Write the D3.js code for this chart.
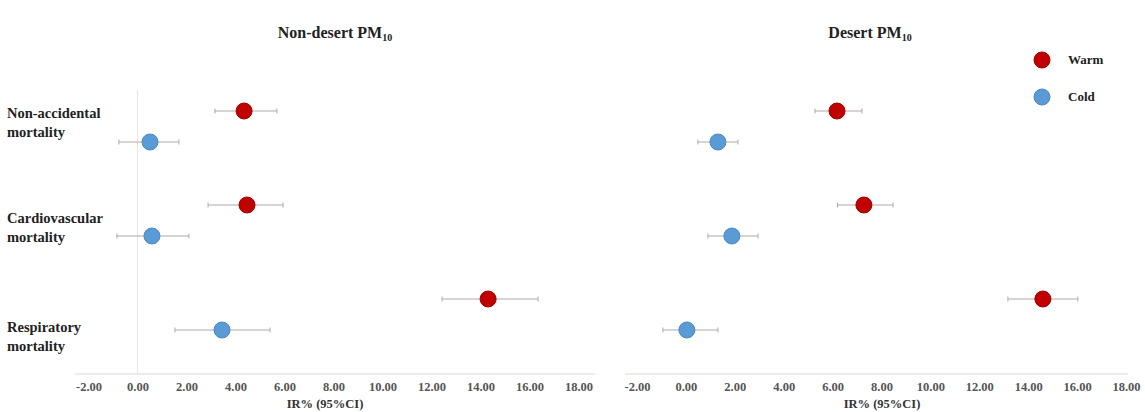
<!DOCTYPE html>
<html><head><meta charset="utf-8">
<script src="https://cdn.jsdelivr.net/npm/d3@7"></script>
<style>body{margin:0;background:#fff;} svg{display:block;font-family:"Liberation Serif","Times New Roman",serif;}</style>
</head><body>
<svg id="c" width="1145" height="412"></svg>
<script>
// ---- data ----
const outcomes = ["Non-accidental mortality", "Cardiovascular mortality", "Respiratory mortality"];
const seasons = ["Warm", "Cold"];
const tickValues = [-2, 0, 2, 4, 6, 8, 10, 12, 14, 16, 18];
const panelTitles = ["Non-desert PM", "Desert PM"];

const nonDesertWarm   = [4.35, 4.47, 14.31];
const nonDesertWarmLo = [3.16, 2.88, 12.43];
const nonDesertWarmHi = [5.69, 5.94, 16.35];
const nonDesertCold   = [0.51, 0.59, 3.45];
const nonDesertColdLo = [-0.76, -0.84, 1.53];
const nonDesertColdHi = [1.69, 2.10, 5.41];

const desertWarm   = [6.18, 7.28, 14.60];
const desertWarmLo = [5.28, 6.20, 13.17];
const desertWarmHi = [7.20, 8.47, 16.03];
const desertCold   = [1.31, 1.88, 0.04];
const desertColdLo = [0.49, 0.90, -0.94];
const desertColdHi = [2.13, 2.95, 1.31];

// ---- layout ----
const svg = d3.select("#c");
const colors = {Warm: "#C00000", Cold: "#5B9BD5"};
const strokes = {Warm: "#A00000", Cold: "#4A88C2"};
const seasonOffset = {Warm: -15, Cold: 16};
const rowScale = d3.scalePoint().domain(outcomes).range([126, 314]);

const panels = [
  {title: panelTitles[0], range: [88.5, 578.5], axisExt: [75, 595], titleX: 335, axisTitleX: 325, zeroLine: true,
   series: {Warm: [nonDesertWarm, nonDesertWarmLo, nonDesertWarmHi], Cold: [nonDesertCold, nonDesertColdLo, nonDesertColdHi]}},
  {title: panelTitles[1], range: [637, 1126], axisExt: [625, 1128], titleX: 870, axisTitleX: 882, zeroLine: false,
   series: {Warm: [desertWarm, desertWarmLo, desertWarmHi], Cold: [desertCold, desertColdLo, desertColdHi]}}
];

const axisY = 374;

panels.forEach(p => {
  const x = d3.scaleLinear().domain([-2, 18]).range(p.range);
  const g = svg.append("g");

  if (p.zeroLine) {
    g.append("line").attr("x1", x(0)).attr("x2", x(0)).attr("y1", 90).attr("y2", axisY)
      .attr("stroke", "#e6e6e6").attr("stroke-width", 1);
  }

  const ax = g.append("g").attr("transform", `translate(0,${axisY})`)
    .call(d3.axisBottom(x).tickValues(tickValues).tickSize(0).tickPadding(8).tickFormat(d3.format(".2f")));
  ax.select(".domain").remove();
  ax.append("line").attr("x1", p.axisExt[0]).attr("x2", p.axisExt[1]).attr("y1", 0).attr("y2", 0)
    .attr("stroke", "#d9d9d9").attr("stroke-width", 1.2);
  ax.selectAll("text").attr("font-family", "Liberation Serif").attr("font-weight", "bold")
    .attr("font-size", 12.5).attr("fill", "#555").text(d => d3.format(".2f")(d).replace("−", "-"));

  g.append("text").attr("x", p.axisTitleX).attr("y", 408)
    .attr("text-anchor", "middle").attr("font-weight", "bold").attr("font-size", 12.5).attr("fill", "#333")
    .text("IR% (95%CI)");

  const t = g.append("text").attr("x", p.titleX).attr("y", 38).attr("text-anchor", "middle")
    .attr("font-weight", "bold").attr("font-size", 16).attr("fill", "#222");
  t.append("tspan").text(p.title);
  t.append("tspan").attr("font-size", 10).attr("dy", 3).text("10");

  seasons.forEach(s => {
    const [est, lo, hi] = p.series[s];
    const rows = outcomes.map((o, i) => ({o, est: est[i], lo: lo[i], hi: hi[i]}));
    const yy = d => rowScale(d.o) + seasonOffset[s];
    const sg = g.append("g");
    sg.selectAll("line.ci").data(rows).join("line").attr("class", "ci")
      .attr("x1", d => x(d.lo)).attr("x2", d => x(d.hi)).attr("y1", yy).attr("y2", yy)
      .attr("stroke", "#b3aaa8").attr("stroke-width", 1.2);
    sg.selectAll("line.capl").data(rows).join("line").attr("class", "capl")
      .attr("x1", d => x(d.lo)).attr("x2", d => x(d.lo)).attr("y1", d => yy(d) - 2.5).attr("y2", d => yy(d) + 2.5)
      .attr("stroke", "#aaa").attr("stroke-width", 1);
    sg.selectAll("line.caph").data(rows).join("line").attr("class", "caph")
      .attr("x1", d => x(d.hi)).attr("x2", d => x(d.hi)).attr("y1", d => yy(d) - 2.5).attr("y2", d => yy(d) + 2.5)
      .attr("stroke", "#aaa").attr("stroke-width", 1);
    sg.selectAll("circle").data(rows).join("circle")
      .attr("cx", d => x(d.est)).attr("cy", yy).attr("r", 8)
      .attr("fill", colors[s]).attr("stroke", strokes[s]).attr("stroke-width", 1);
  });
});

// row labels
const labelOffsets = [[-8, 11], [3, 22], [18, 37]];
outcomes.forEach((o, i) => {
  const words = o.split(" ");
  const txt = svg.append("text").attr("font-weight", "bold").attr("font-size", 14.5).attr("fill", "#222");
  txt.append("tspan").attr("x", 7).attr("y", rowScale(o) + labelOffsets[i][0]).text(words[0]);
  txt.append("tspan").attr("x", 7).attr("y", rowScale(o) + labelOffsets[i][1]).text(words.slice(1).join(" "));
});

// legend
const legend = svg.append("g");
seasons.forEach((s, i) => {
  const ly = 60 + i * 37;
  legend.append("circle").attr("cx", 1042).attr("cy", ly).attr("r", 8)
    .attr("fill", colors[s]).attr("stroke", strokes[s]);
  legend.append("text").attr("x", 1068).attr("y", ly + 4).attr("font-weight", "bold")
    .attr("font-size", 13).attr("fill", "#222").text(s);
});
</script>
</body></html>
